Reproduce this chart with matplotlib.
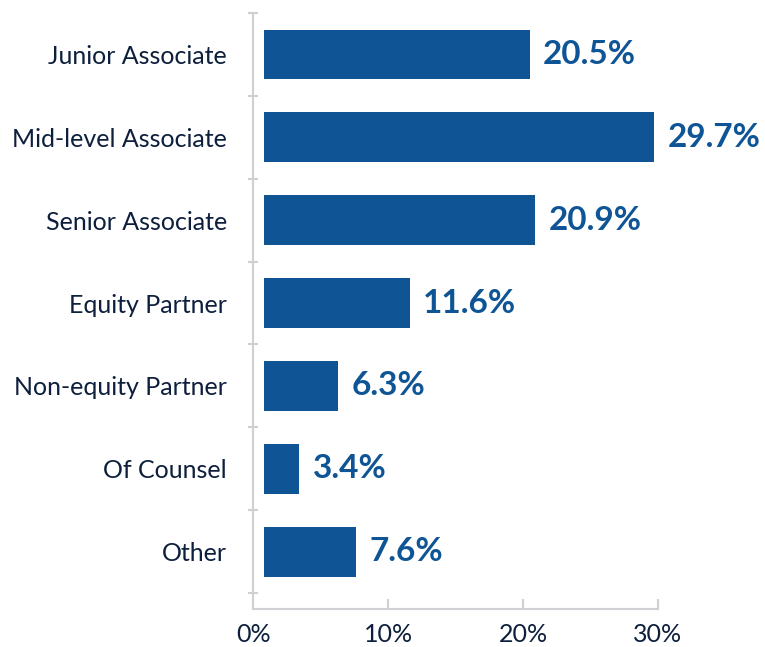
import numpy as np
import matplotlib.pyplot as plt

# Chart data
categories = ["Junior Associate", "Mid-level Associate", "Senior Associate",
              "Equity Partner", "Non-equity Partner", "Of Counsel", "Other"]
shares = [20.5, 29.7, 20.9, 11.6, 6.3, 3.4, 7.6]
x_ticks = [0, 10, 20, 30]
x_tick_labels = ["0%", "10%", "20%", "30%"]

bar_color = "#0f5595"
text_color = "#0d1f3c"
axis_color = "#cfcfd4"

fig = plt.figure(figsize=(7.65, 6.47), dpi=100)
ax = fig.add_axes([0.331, 0.059, 0.529, 0.921])

y = np.arange(len(categories))
gap = 0.8  # white gap between the axis line and the bars
ax.barh(y, np.array(shares) - gap, left=gap, height=0.6, color=bar_color)

# value labels to the right of each bar
for yi, v in zip(y, shares):
    ax.text(v + 1.0, yi, f"{v}%", va="center", ha="left",
            fontsize=24, fontweight="bold", color=bar_color, family="Lato")

ax.set_xlim(0, 30)
ax.set_ylim(6.69, -0.5)

ax.set_yticks(y)
ax.set_yticklabels(categories, fontsize=18, color=text_color, family="Lato")
ax.tick_params(axis="y", which="major", length=0, pad=19)
ax.set_yticks(np.arange(-0.5, len(categories)), minor=True)
ax.tick_params(axis="y", which="minor", length=7, direction="inout",
               width=1.5, color=axis_color)

ax.set_xticks(x_ticks)
ax.set_xticklabels(x_tick_labels, fontsize=18, color=text_color, family="Lato")
ax.tick_params(axis="x", direction="in", length=7, width=1.5,
               color=axis_color, pad=10)

for side in ["top", "right"]:
    ax.spines[side].set_visible(False)
for side in ["left", "bottom"]:
    ax.spines[side].set_color(axis_color)
    ax.spines[side].set_linewidth(1.5)

fig.savefig("out.png", dpi=100)
